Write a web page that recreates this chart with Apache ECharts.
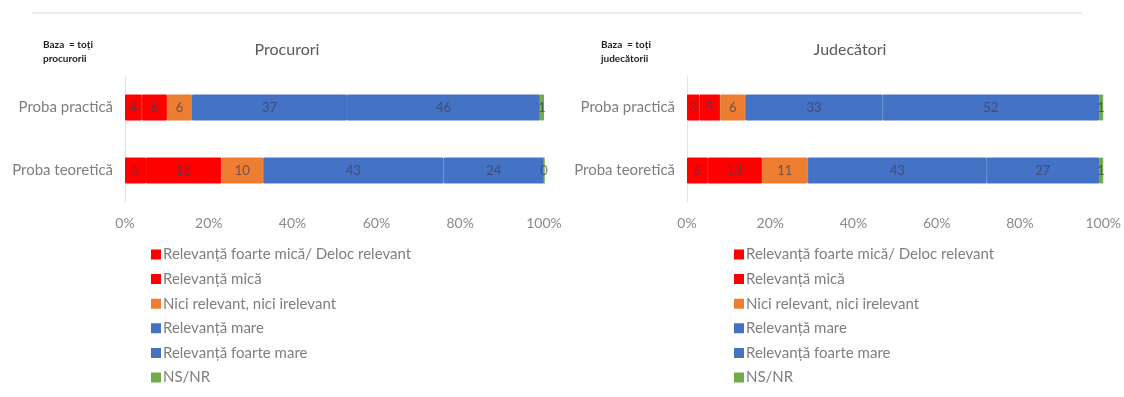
<!DOCTYPE html>
<html>
<head>
<meta charset="utf-8">
<script src="https://cdn.jsdelivr.net/npm/echarts@6/dist/echarts.min.js"></script>
<style>html,body{margin:0;padding:0;background:#fff}#c{width:1124px;height:397px}</style>
</head>
<body>
<div id="c"></div>
<script>
const categories = ['Proba practică', 'Proba teoretică'];
const seriesNames = ['Relevanță foarte mică/ Deloc relevant', 'Relevanță mică', 'Nici relevant, nici irelevant', 'Relevanță mare', 'Relevanță foarte mare', 'NS/NR'];
const colors = ['#FF0000', '#FF0000', '#ED7D31', '#4472C4', '#4472C4', '#70AD47'];
// [practică, teoretică] per series
const procurori = [[4, 5], [6, 18], [6, 10], [37, 43], [46, 24], [1, 0]];
const judecatori = [[3, 5], [5, 13], [6, 11], [33, 43], [52, 27], [1, 1]];
const xTicks = [0, 20, 40, 60, 80, 100];

const font = 'Lato';
const chart = echarts.init(document.getElementById('c'));
const grids = [
  {left: 125, width: 419, top: 76, height: 126},
  {left: 687, width: 418, top: 76, height: 126}
];
function mkSeries(data, gi) {
  return data.map((vals, i) => ({
    name: seriesNames[i], type: 'bar', stack: 's' + gi,
    xAxisIndex: gi, yAxisIndex: gi, barWidth: 26,
    itemStyle: {color: colors[i], borderColor: colors[i], borderWidth: 1},
    label: {show: true, position: 'inside', color: 'rgba(60,60,90,0.7)', fontSize: 13, fontFamily: font},
    data: vals
  }));
}
const xAx = gi => ({
  type: 'value', gridIndex: gi, min: 0, max: 100, interval: 20,
  axisLine: {show: false}, axisTick: {show: false}, splitLine: {show: false},
  axisLabel: {formatter: v => xTicks.includes(v) ? v + '%' : '', color: '#8a8a8a', fontSize: 14, fontFamily: font, margin: 14}
});
const yAx = gi => ({
  type: 'category', gridIndex: gi, data: categories, inverse: true,
  axisLine: {show: true, lineStyle: {color: '#e3e3e3'}}, axisTick: {show: false},
  axisLabel: {color: '#7f7f7f', fontSize: 15, fontFamily: font, margin: 12}
});
const legend = (left) => ({
  orient: 'vertical', left: left, top: 242, itemWidth: 8, itemHeight: 8, itemGap: 9.6,
  icon: 'rect', data: seriesNames, selectedMode: false,
  textStyle: {color: '#7f7f7f', fontSize: 15, fontFamily: font, padding: [0, 0, 0, -2]}
});
chart.setOption({
  animation: false,
  title: [
    {text: 'Procurori', left: 282, top: 37, textAlign: 'center', textStyle: {color: '#595959', fontSize: 16, fontWeight: 'normal', fontFamily: font}},
    {text: 'Judecători', left: 845, top: 37, textAlign: 'center', textStyle: {color: '#595959', fontSize: 16, fontWeight: 'normal', fontFamily: font}},
    {text: 'Baza  = toți\nprocurorii', left: 38, top: 33, textStyle: {color: '#222', fontSize: 10, fontWeight: 'bold', lineHeight: 14, fontFamily: font}},
    {text: 'Baza  = toți\njudecătorii', left: 596, top: 33, textStyle: {color: '#222', fontSize: 10, fontWeight: 'bold', lineHeight: 14, fontFamily: font}}
  ],
  graphic: [{type: 'line', shape: {x1: 32, y1: 13, x2: 1082, y2: 13}, style: {stroke: '#d9d9d9', lineWidth: 1}}],
  grid: grids,
  xAxis: [xAx(0), xAx(1)],
  yAxis: [yAx(0), yAx(1)],
  legend: [legend(146), legend(729)],
  series: [...mkSeries(procurori, 0), ...mkSeries(judecatori, 1)]
});
</script>
</body>
</html>
